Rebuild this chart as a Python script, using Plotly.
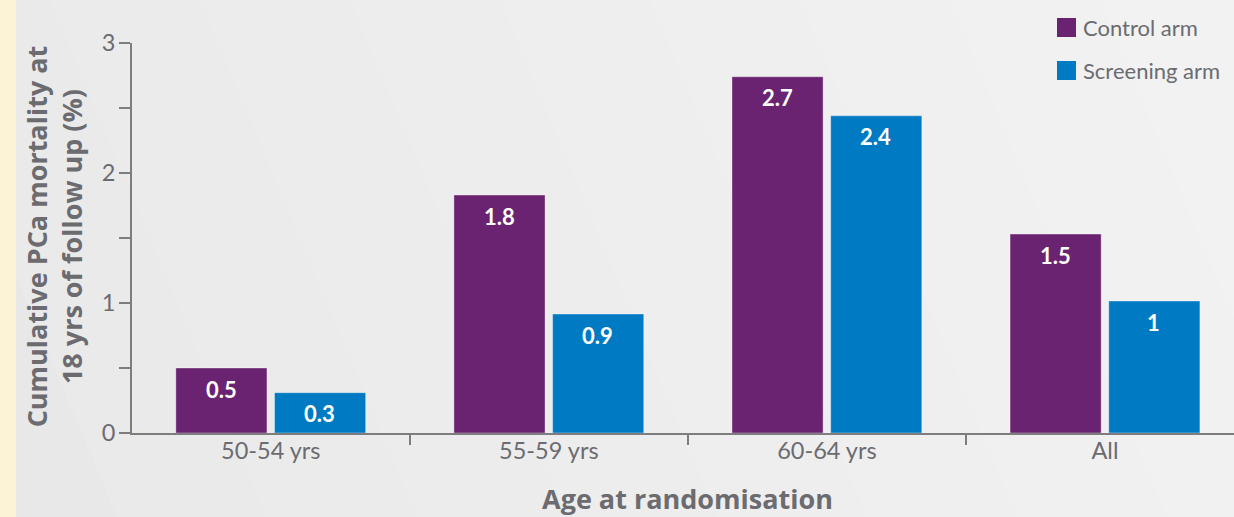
import plotly.graph_objects as go

categories = ["50-54 yrs", "55-59 yrs", "60-64 yrs", "All"]
control_values = [0.50, 1.83, 2.74, 1.53]
screening_values = [0.31, 0.915, 2.44, 1.015]
control_labels = ["0.5", "1.8", "2.7", "1.5"]
screening_labels = ["0.3", "0.9", "2.4", "1"]
series_names = ["Control arm", "Screening arm"]
y_tick_vals = [0, 0.5, 1, 1.5, 2, 2.5, 3]
y_tick_text = ["0", "", "1", "", "2", "", "3"]

PURPLE = "#6a2370"
BLUE = "#007ac2"
GREY = "#6b6b70"
AXIS = "#7d7d80"
FONT = "Lato, 'Noto Sans', sans-serif"
TITLE_FONT = "'Open Sans', 'Noto Sans', sans-serif"

fig = go.Figure()
fig.add_bar(x=categories, y=control_values, name=series_names[0],
            marker=dict(color=PURPLE, line=dict(color="rgba(255,255,255,0.35)", width=1)),
            showlegend=False)
fig.add_bar(x=categories, y=screening_values, name=series_names[1],
            marker=dict(color=BLUE, line=dict(color="rgba(255,255,255,0.35)", width=1)),
            showlegend=False)

annotations = []
for cat, v, t in zip(categories, control_values, control_labels):
    annotations.append(dict(x=cat, y=v, xref="x", yref="y", text=t, showarrow=False,
                            xshift=-49, yshift=-21, yanchor="middle",
                            font=dict(family=FONT, size=22, color="white", weight="bold")))
for cat, v, t in zip(categories, screening_values, screening_labels):
    annotations.append(dict(x=cat, y=v, xref="x", yref="y", text=t, showarrow=False,
                            xshift=49, yshift=-21, yanchor="middle",
                            font=dict(family=FONT, size=22, color="white", weight="bold")))

# axis titles
annotations.append(dict(x=0.5045, y=-0.1667, xref="paper", yref="paper",
                        text="Age at randomisation", showarrow=False,
                        xanchor="center", yanchor="middle",
                        font=dict(family=TITLE_FONT, size=27, color=GREY, weight="bold")))
annotations.append(dict(x=-0.0705, y=0.505, xref="paper", yref="paper",
                        text="Cumulative PCa mortality at<br>18 yrs of follow up (%)",
                        showarrow=False, textangle=-90, xanchor="center", yanchor="middle",
                        font=dict(family=TITLE_FONT, size=27, color=GREY, weight="bold")))

# pixel -> paper helpers (plot area: left 132, top 43, 1102 x 390)
W, H, L, T = 1102.0, 390.0, 132.0, 43.0
def px(xp):
    return (xp - L) / W
def py(yp):
    return (T + H - yp) / H

shapes = []
# subtle diagonal background bands
band_colors = ["#e8e8e8", "#eaeaea", "#ebebeb", "#ececec", "#ededed", "#eeeeee",
               "#efefef", "#f0f0f0", "#f1f1f1", "#f2f2f2", "#f3f3f3"]
band_w = 150
slant = 0.42 * 517
for i, c in enumerate(band_colors):
    xa = -250 + i * band_w
    xb = xa + band_w + 2
    if i == len(band_colors) - 1:
        xb = 1600
    path = (f"M {px(xa)},{py(0)} L {px(xb)},{py(0)} "
            f"L {px(xb + slant)},{py(517)} L {px(xa + slant)},{py(517)} Z")
    shapes.append(dict(type="path", xref="paper", yref="paper", path=path,
                       fillcolor=c, line=dict(width=0), layer="below"))
shapes.append(dict(type="rect", xref="paper", yref="paper", x0=px(-1), x1=px(16),
                   y0=py(518), y1=py(-1), fillcolor="#fcf2d6", line=dict(width=0),
                   layer="below"))

# manual legend
legend_colors = [PURPLE, BLUE]
legend_tops = [18, 61]
for name, col, top in zip(series_names, legend_colors, legend_tops):
    shapes.append(dict(type="rect", xref="paper", yref="paper",
                       x0=px(1057), x1=px(1076), y0=py(top + 19), y1=py(top),
                       fillcolor=col, line=dict(width=0)))
    annotations.append(dict(x=px(1081), y=py(top + 9.5), xref="paper", yref="paper",
                            text=name, showarrow=False, xanchor="left", yanchor="middle",
                            font=dict(family=FONT, size=22, color=GREY)))

fig.update_layout(
    width=1234, height=517,
    margin=dict(l=132, r=0, t=43, b=84),
    paper_bgcolor="#eeeeee", plot_bgcolor="rgba(0,0,0,0)",
    barmode="group", bargap=0.29, bargroupgap=0.077,
    font=dict(family=FONT, color=GREY),
    annotations=annotations, shapes=shapes,
    showlegend=False,
)
fig.update_xaxes(type="category", range=[-0.499, 3.464], showline=True, linecolor=AXIS,
                 linewidth=2, ticks="outside", tickson="boundaries", ticklen=10,
                 tickwidth=2, tickcolor=AXIS, showgrid=False, zeroline=False,
                 tickfont=dict(family=FONT, size=23.5, color=GREY), ticklabelstandoff=-4)
fig.update_yaxes(range=[0, 3], showline=True, linecolor=AXIS, linewidth=2,
                 ticks="outside", ticklen=11, tickwidth=2, tickcolor=AXIS,
                 tickvals=y_tick_vals, ticktext=y_tick_text, showgrid=False,
                 zeroline=False, tickfont=dict(family=FONT, size=23.5, color=GREY),
                 ticklabelstandoff=-1)

fig.write_html("out.html")
